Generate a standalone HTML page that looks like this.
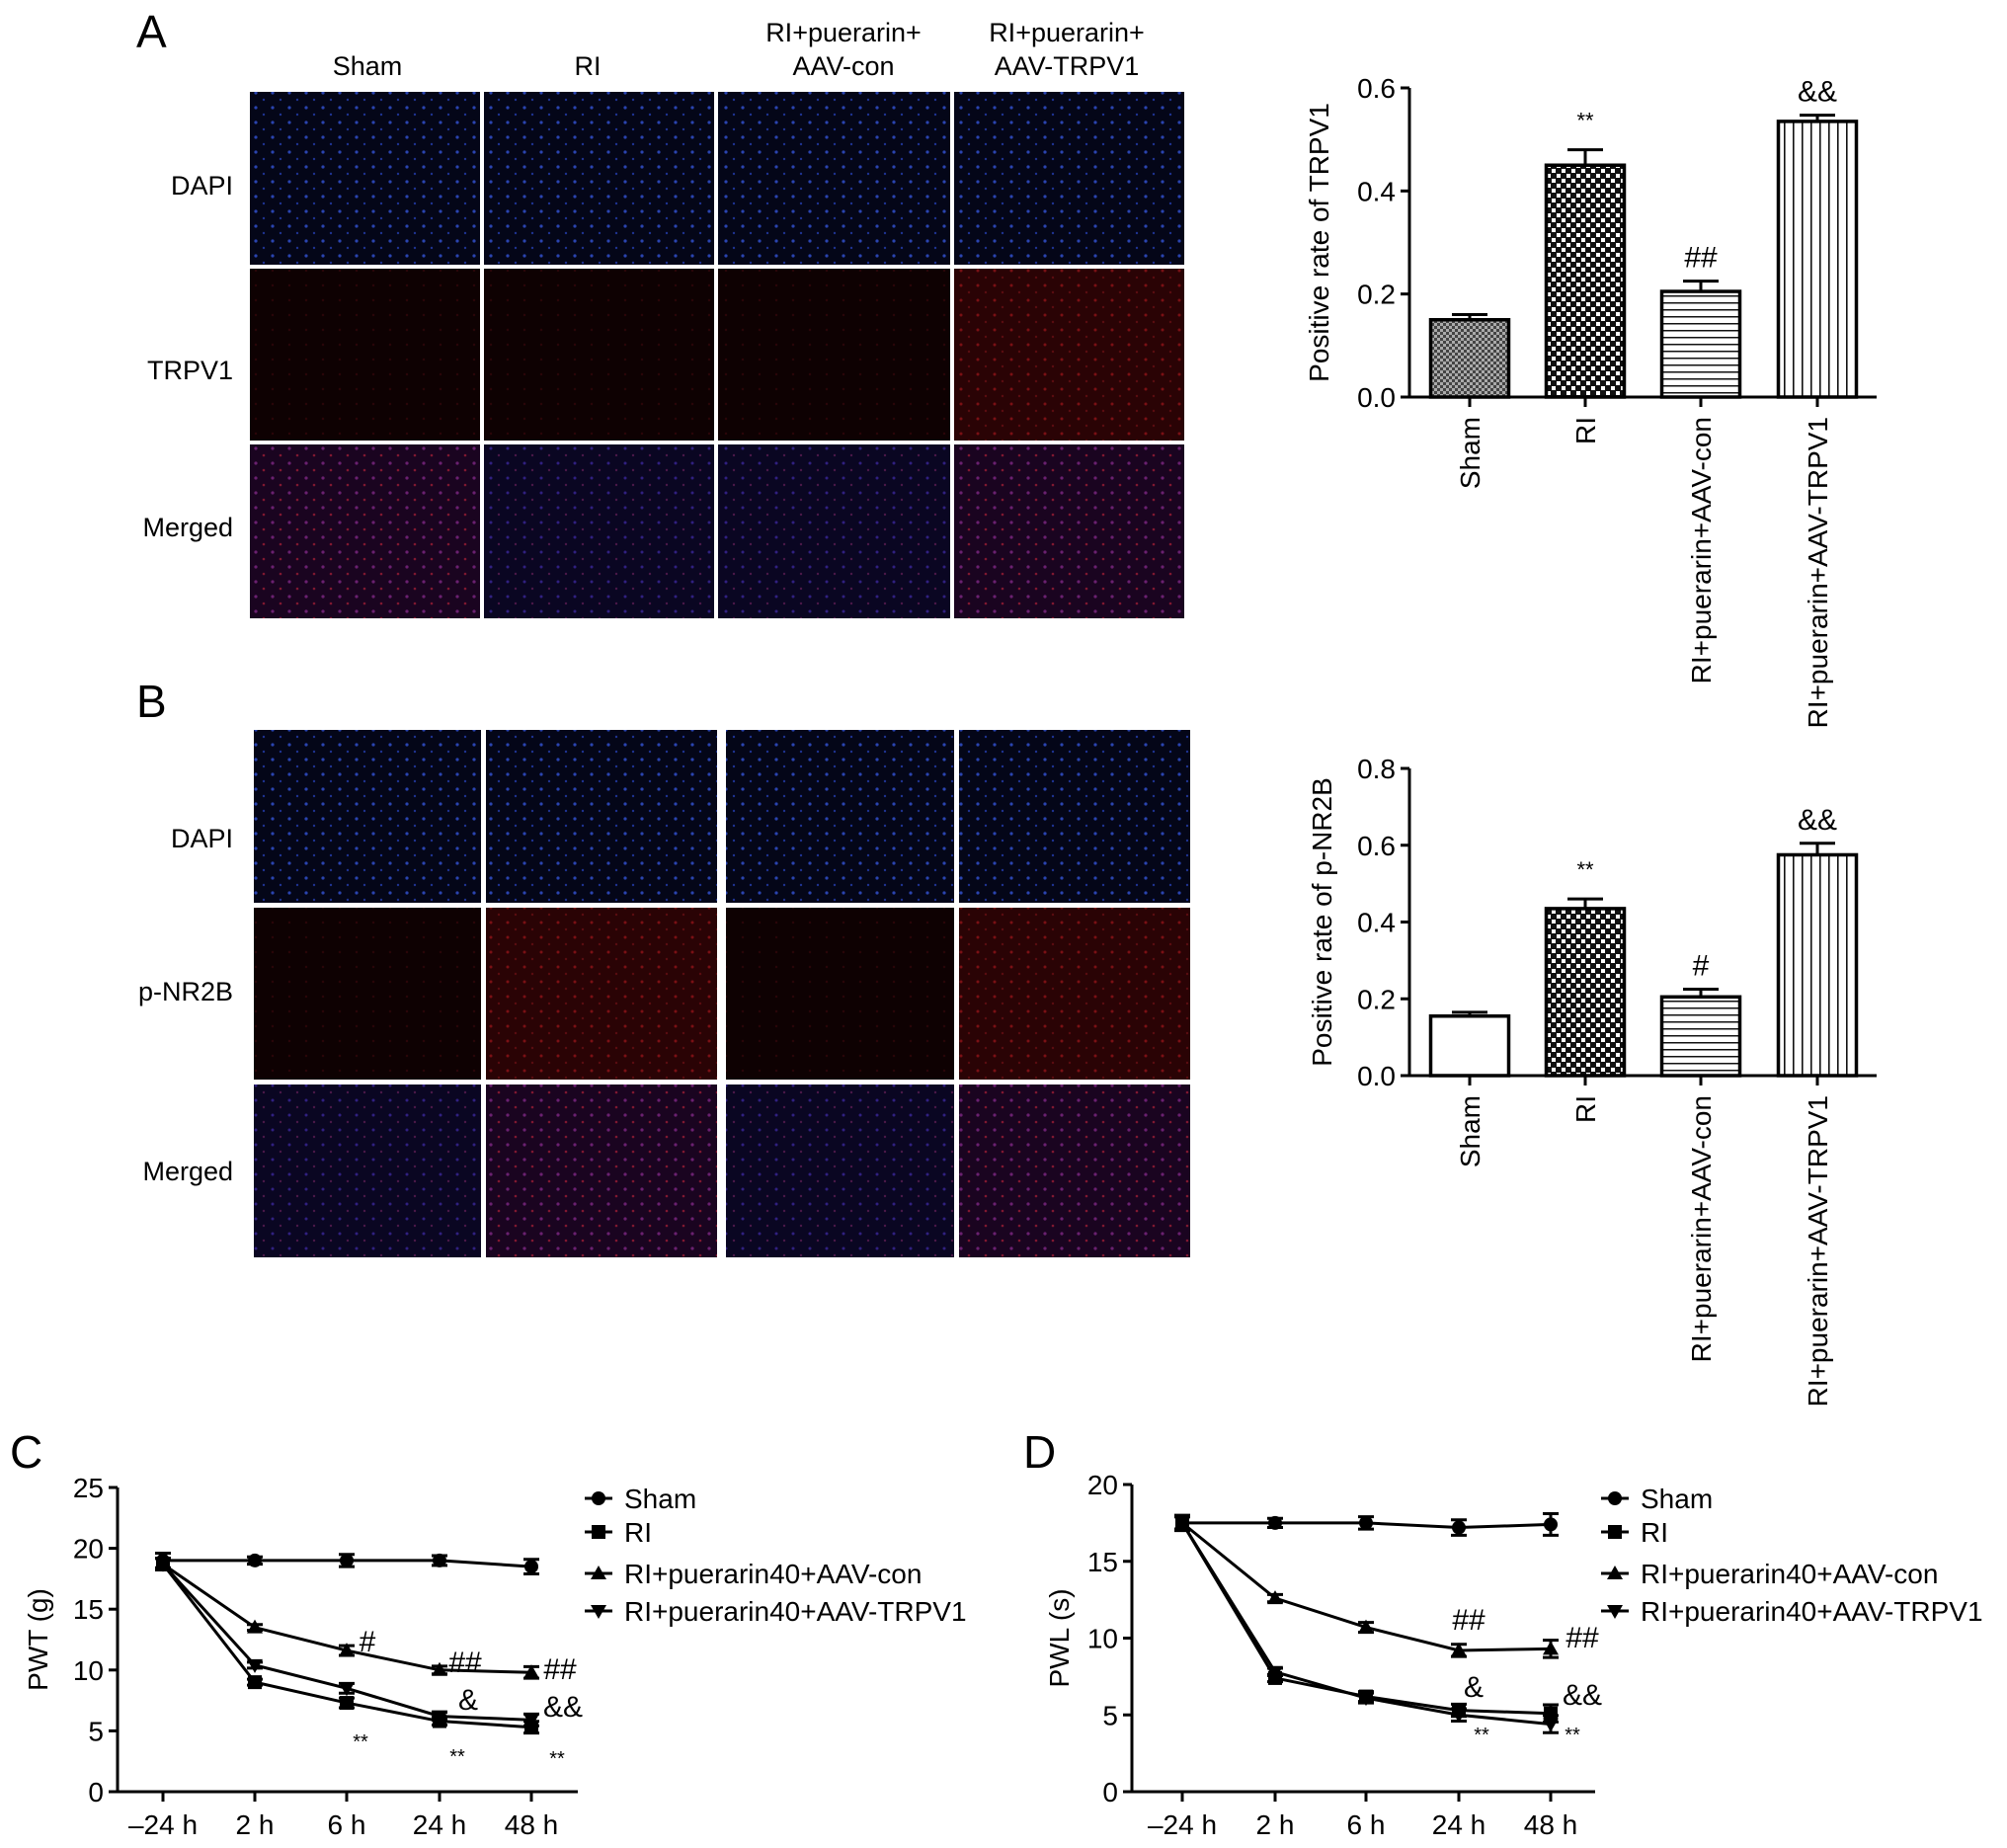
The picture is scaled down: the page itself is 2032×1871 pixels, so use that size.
<!DOCTYPE html>
<html><head><meta charset="utf-8">
<style>
body{margin:0;background:#fff;width:2032px;height:1871px;overflow:hidden;font-family:"Liberation Sans",sans-serif;}
svg{position:absolute;left:0;top:0}
</style></head>
<body>
<svg id="fig" width="2032" height="1871" xmlns="http://www.w3.org/2000/svg">
<defs>
<pattern id="pFine" width="6" height="6" patternUnits="userSpaceOnUse"><rect width="6" height="6" fill="#aaa"/><rect width="3" height="3" fill="#444"/><rect x="3" y="3" width="3" height="3" fill="#444"/></pattern>
<pattern id="pChk" width="10" height="10" patternUnits="userSpaceOnUse"><rect width="10" height="10" fill="#111"/><rect x="1" y="1" width="4" height="4" fill="#fff"/><rect x="6" y="6" width="4" height="4" fill="#fff"/></pattern>
<pattern id="pH" width="8" height="7" patternUnits="userSpaceOnUse"><rect width="8" height="7" fill="#fff"/><rect y="5" width="8" height="1.5" fill="#111"/></pattern>
<pattern id="pV" width="9" height="8" patternUnits="userSpaceOnUse"><rect width="9" height="8" fill="#fff"/><rect x="6" width="1.6" height="8" fill="#111"/></pattern>
<pattern id="dBlue" width="17" height="15" patternUnits="userSpaceOnUse"><rect width="17" height="15" fill="#040618"/><circle cx="4" cy="4" r="1.6" fill="#2a44b0"/><circle cx="12" cy="11" r="1.2" fill="#1e3290"/></pattern>
<pattern id="dRed" width="17" height="15" patternUnits="userSpaceOnUse"><rect width="17" height="15" fill="#2a0305"/><circle cx="4" cy="4" r="1.5" fill="#7a1014"/><circle cx="12" cy="11" r="1.2" fill="#5a0c10"/></pattern>
<pattern id="dDim" width="17" height="15" patternUnits="userSpaceOnUse"><rect width="17" height="15" fill="#0e0102"/><circle cx="4" cy="4" r="1.2" fill="#2a0508"/></pattern>
<pattern id="dMerge" width="17" height="15" patternUnits="userSpaceOnUse"><rect width="17" height="15" fill="#1a0420"/><circle cx="4" cy="4" r="1.6" fill="#6a2070"/><circle cx="12" cy="11" r="1.3" fill="#801830"/></pattern>
<pattern id="dMergeB" width="17" height="15" patternUnits="userSpaceOnUse"><rect width="17" height="15" fill="#0a0622"/><circle cx="4" cy="4" r="1.5" fill="#302080"/><circle cx="12" cy="11" r="1.2" fill="#4a1848"/></pattern>
</defs>
</svg>
<script>
// ---------- data ----------
const barCats=["Sham","RI","RI+puerarin+AAV-con","RI+puerarin+AAV-TRPV1"];
const barA=[0.15,0.45,0.205,0.535];
const barAerr=[0.01,0.03,0.02,0.012];
const barAnotes=["","**","##","&&"];
const barB=[0.155,0.435,0.205,0.575];
const barBerr=[0.01,0.025,0.02,0.03];
const barBnotes=["","**","#","&&"];
const ticksA=[0,0.2,0.4,0.6];
const ticksB=[0,0.2,0.4,0.6,0.8];
const timeCats=["\u201324 h","2 h","6 h","24 h","48 h"];
const seriesNames=["Sham","RI","RI+puerarin40+AAV-con","RI+puerarin40+AAV-TRPV1"];
const cSham=[19,19,19,19,18.5];
const cRI=[18.7,9,7.3,5.8,5.3];
const cCon=[18.7,13.5,11.6,10,9.8];
const cTRPV=[18.7,10.4,8.5,6.2,5.9];
const cErr=[0.6,0.3,0.5,0.4,0.6];
const dSham=[17.5,17.5,17.5,17.2,17.4];
const dRI=[17.5,7.4,6.2,5.3,5.1];
const dCon=[17.5,12.6,10.7,9.2,9.3];
const dTRPV=[17.5,7.8,6.1,5.0,4.4];
const dErr=[0.5,0.3,0.4,0.5,0.7];
const ticksC=[0,5,10,15,20,25];
const ticksD=[0,5,10,15,20];

const svg=document.getElementById('fig');
const NS="http://www.w3.org/2000/svg";
function mk(tag,attrs,parent,text){const e=document.createElementNS(NS,tag);for(const k in attrs)e.setAttribute(k,attrs[k]);if(text!==undefined)e.textContent=text;(parent||svg).appendChild(e);return e;}

// ---------- panel labels ----------
[["A",138,48],["B",138,726],["C",10,1486],["D",1036,1486]].forEach(p=>{
 const t=mk('text',{x:p[1],y:p[2],'font-size':46},svg,p[0]);
 
 
});

// ---------- micrographs ----------
function grid(cols,rows,fills,prefix,rowNames){
 const g=mk('g',{});
 
 
 rows.forEach((r,ri)=>cols.forEach((c,ci)=>{
  const rc=mk('rect',{x:c[0],y:r[0],width:c[1]-c[0],height:r[1]-r[0],fill:'url(#'+fills[ri][ci]+')'},g);
  
  
 }));
}
grid([[253,486],[490,723],[727,962],[966,1199]],[[93,268],[272,446],[450,626]],
 [["dBlue","dBlue","dBlue","dBlue"],["dDim","dDim","dDim","dRed"],["dMerge","dMergeB","dMergeB","dMerge"]],'a',['dapi','trpv1','merged']);
grid([[257,487],[492,726],[735,966],[971,1205]],[[739,914],[919,1093],[1098,1273]],
 [["dBlue","dBlue","dBlue","dBlue"],["dDim","dRed","dDim","dRed"],["dMergeB","dMerge","dMergeB","dMerge"]],'b',['dapi','pnr2b','merged']);

function txt(x,y,s,size,anchor,name){const t=mk('text',{x:x,y:y,'font-size':size,'text-anchor':anchor||'start'},svg,s);return t;}
txt(372,76,"Sham",27,'middle','col-header-sham');
txt(595,76,"RI",27,'middle','col-header-ri');
txt(854,42,"RI+puerarin+",27,'middle','col-header-con-line1');
txt(854,76,"AAV-con",27,'middle','col-header-con-line2');
txt(1080,42,"RI+puerarin+",27,'middle','col-header-trpv1-line1');
txt(1080,76,"AAV-TRPV1",27,'middle','col-header-trpv1-line2');
txt(236,197,"DAPI",27,'end','row-label-dapi-a');
txt(236,384,"TRPV1",27,'end','row-label-trpv1');
txt(236,543,"Merged",27,'end','row-label-merged-a');
txt(236,858,"DAPI",27,'end','row-label-dapi-b');
txt(236,1013,"p-NR2B",27,'end','row-label-pnr2b');
txt(236,1195,"Merged",27,'end','row-label-merged-b');

// ---------- bar charts ----------
const barX=[1488,1605,1722,1840];
const barFillsA=["pFine","pChk","pH","pV"];
const barFillsB=["#fff","pChk","pH","pV"];
function barChart(o){
 const g=mk('g',{});
 
 
 const y=v=>o.y0-(v/o.max)*(o.y0-o.yTop);
 const ax=mk('path',{d:`M${o.ax},${y(o.max)}V${o.y0}H1900`,stroke:'#000','stroke-width':3,fill:'none'},g);
 
 o.ticks.forEach(t=>{
  mk('line',{x1:o.ax-9,x2:o.ax,y1:y(t),y2:y(t),stroke:'#000','stroke-width':3},g);
  const tl=mk('text',{x:o.ax-14,y:y(t)+10,'font-size':28,'text-anchor':'end'},g,t.toFixed(1));
  
 });
 const yt=mk('text',{transform:`translate(${o.titleX},${(o.y0+y(o.max))/2}) rotate(-90)`,'font-size':28,'text-anchor':'middle'},g,o.title);
 
 o.vals.forEach((v,i)=>{
  const cx=barX[i],w=79;
  const f=o.fills[i].startsWith('#')?o.fills[i]:'url(#'+o.fills[i]+')';
  const b=mk('rect',{x:cx-w/2,y:y(v),width:w,height:o.y0-y(v),fill:f,stroke:'#000','stroke-width':3.5},g);
  
  const e=mk('path',{d:`M${cx},${y(v)}V${y(v+o.err[i])}M${cx-18},${y(v+o.err[i])}H${cx+18}`,stroke:'#000','stroke-width':3},g);
  
  mk('line',{x1:cx,x2:cx,y1:o.y0,y2:o.y0+10,stroke:'#000','stroke-width':3},g);
  if(o.notes[i]){const n=mk('text',{x:cx,y:y(v+o.err[i])-(o.notes[i]=='**'?22:14),'font-size':o.notes[i]=='**'?22:30,'text-anchor':'middle'},g,o.notes[i]);}
  const cl=mk('text',{transform:`translate(${cx+10},${o.y0+20}) rotate(-90)`,'font-size':28,'text-anchor':'end'},g,barCats[i]);
  
 });
}
barChart({name:'trpv1-bar-chart',ax:1427,y0:402,yTop:89,max:0.6,ticks:ticksA,vals:barA,err:barAerr,notes:barAnotes,fills:barFillsA,title:'Positive rate of TRPV1',titleX:1345});
barChart({name:'pnr2b-bar-chart',ax:1427,y0:1089,yTop:778,max:0.8,ticks:ticksB,vals:barB,err:barBerr,notes:barBnotes,fills:barFillsB,title:'Positive rate of p-NR2B',titleX:1348});

// ---------- line charts ----------
function marker(g,kind,x,y){
 let m;
 if(kind==0)m=mk('circle',{cx:x,cy:y,r:7,fill:'#000'},g);
 else if(kind==1)m=mk('rect',{x:x-7,y:y-7,width:14,height:14,fill:'#000'},g);
 else if(kind==2)m=mk('path',{d:`M${x},${y-8}L${x+8},${y+6}L${x-8},${y+6}Z`,fill:'#000'},g);
 else m=mk('path',{d:`M${x},${y+8}L${x+8},${y-6}L${x-8},${y-6}Z`,fill:'#000'},g);
 
}
function lineChart(o){
 const g=mk('g',{});
 
 
 const y=v=>o.y0-(v/o.max)*(o.y0-o.yTop);
 const x=i=>o.xs[i];
 const ax=mk('path',{d:`M${o.ax},${o.yTop}V${o.y0}H${o.axEnd}`,stroke:'#000','stroke-width':3,fill:'none'},g);
 
 o.ticks.forEach(t=>{
  mk('line',{x1:o.ax-9,x2:o.ax,y1:y(t),y2:y(t),stroke:'#000','stroke-width':3},g);
  const tl=mk('text',{x:o.ax-14,y:y(t)+10,'font-size':28,'text-anchor':'end'},g,String(t));
  
 });
 timeCats.forEach((c,i)=>{
  mk('line',{x1:x(i),x2:x(i),y1:o.y0,y2:o.y0+10,stroke:'#000','stroke-width':3},g);
  const tl=mk('text',{x:x(i),y:o.y0+43,'font-size':28,'text-anchor':'middle'},g,c);
  
 });
 const yt=mk('text',{transform:`translate(${o.titleX},${(o.y0+o.yTop)/2}) rotate(-90)`,'font-size':28,'text-anchor':'middle'},g,o.title);
 
 o.series.forEach((s,k)=>{
  const p=mk('polyline',{points:s.map((v,i)=>x(i)+','+y(v)).join(' '),fill:'none',stroke:'#000','stroke-width':3},g);
  
  s.forEach((v,i)=>{
   const e=o.err[i]*(k==0?1:0.8);
   const eb=mk('path',{d:`M${x(i)},${y(v-e)}V${y(v+e)}M${x(i)-8},${y(v-e)}H${x(i)+8}M${x(i)-8},${y(v+e)}H${x(i)+8}`,stroke:'#000','stroke-width':3},g);
   
   marker(g,k,x(i),y(v));
  });
 });
 o.notes.forEach(n=>{const t=mk('text',{x:n[1],y:n[2],'font-size':n[0]=='**'?20:30,'text-anchor':'middle'},g,n[0]);});
 seriesNames.forEach((nm,k)=>{
  const ly=o.legY[k];
  const lg=mk('g',{},g);
  
  
  mk('line',{x1:o.legX-14,x2:o.legX+14,y1:ly,y2:ly,stroke:'#000','stroke-width':3},lg);
  marker(lg,k,o.legX,ly);
  mk('text',{x:o.legX+26,y:ly+10,'font-size':28},lg,nm);
 });
}
lineChart({name:'pwt-line-chart',ax:119,y0:1814,yTop:1506,max:25,axEnd:585,xs:[165,258,351,445,538],
 ticks:ticksC,series:[cSham,cRI,cCon,cTRPV],err:cErr,title:'PWT (g)',titleX:48,
 notes:[["#",372,1672],["##",471,1693],["##",567,1700],["&",474,1731],["&&",570,1738],["**",365,1770],["**",463,1785],["**",564,1787]],
 legX:606,legY:[1517,1551,1593,1631]});
lineChart({name:'pwl-line-chart',ax:1146,y0:1814,yTop:1503,max:20,axEnd:1615,xs:[1197,1291,1383,1477,1570],
 ticks:ticksD,series:[dSham,dRI,dCon,dTRPV],err:dErr,title:'PWL (s)',titleX:1082,
 notes:[["##",1487,1650],["##",1602,1668],["&",1492,1718],["&&",1602,1726],["**",1500,1763],["**",1592,1763]],
 legX:1635,legY:[1517,1551,1593,1631]});
</script>
</body></html>
